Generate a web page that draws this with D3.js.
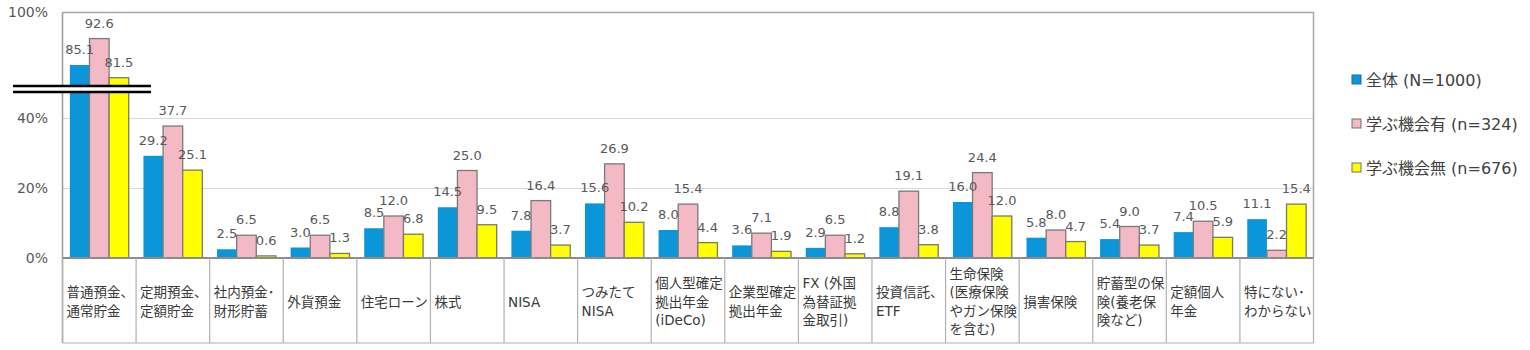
<!DOCTYPE html>
<html><head><meta charset="utf-8">
<script src="https://cdn.jsdelivr.net/npm/d3@7"></script>
<style>html,body{margin:0;padding:0;background:#fff;}svg{display:block;}</style>
</head><body>
<svg id="chart" width="1530" height="350"></svg>
<script>
const categories = [
  ["普通預金、","通常貯金"],
  ["定期預金、","定額貯金"],
  ["社内預金･","財形貯蓄"],
  ["外貨預金"],
  ["住宅ローン"],
  ["株式"],
  ["NISA"],
  ["つみたて","NISA"],
  ["個人型確定","拠出年金","(iDeCo)"],
  ["企業型確定","拠出年金"],
  ["FX (外国","為替証拠","金取引)"],
  ["投資信託、","ETF"],
  ["生命保険","(医療保険","やガン保険","を含む)"],
  ["損害保険"],
  ["貯蓄型の保","険(養老保","険など)"],
  ["定額個人","年金"],
  ["特にない･","わからない"]
];
const seriesNames = ["全体 (N=1000)", "学ぶ機会有 (n=324)", "学ぶ機会無 (n=676)"];
const total   = [85.1, 29.2, 2.5, 3.0, 8.5, 14.5, 7.8, 15.6, 8.0, 3.6, 2.9, 8.8, 16.0, 5.8, 5.4, 7.4, 11.1];
const learnYes = [92.6, 37.7, 6.5, 6.5, 12.0, 25.0, 16.4, 26.9, 15.4, 7.1, 6.5, 19.1, 24.4, 8.0, 9.0, 10.5, 2.2];
const learnNo  = [81.5, 25.1, 0.6, 1.3, 6.8, 9.5, 3.7, 10.2, 4.4, 1.9, 1.2, 3.8, 12.0, 4.7, 3.7, 5.9, 15.4];
const tickValues = [0, 20, 40, 100];
const tickLabels = ["0%", "20%", "40%", "100%"];
const colors = ["#0a96d8", "#f3b9c5", "#ffff00"];
const strokes = ["#1a7fb5", "#7a7a7a", "#7a7a6a"];

const series = [total, learnYes, learnNo];
const svg = d3.select("#chart");
const L = 62.5, R = 1313.5, T = 12.5, B = 258, TB = 343;
const FONT = "DejaVu Sans, Noto Sans CJK JP, sans-serif";

const x0 = d3.scaleBand().domain(d3.range(categories.length)).range([L, R]).padding(0);
const x1 = d3.scaleBand().domain(d3.range(3)).range([x0.bandwidth()*0.1, x0.bandwidth()*0.9]).padding(0);
// broken axis: 50..80 collapsed
const y = d3.scaleLinear().domain([0, 50, 80, 100]).range([B, 83, 83, T]);

// gridlines
svg.append("g").selectAll("line").data([20, 40]).join("line")
  .attr("x1", L).attr("x2", R).attr("y1", d => Math.round(y(d)) + 0.5).attr("y2", d => Math.round(y(d)) + 0.5)
  .attr("stroke", "#d9d9d9").attr("stroke-width", 1.2);

// plot border
svg.append("path").attr("d", `M${L},${T}H${R}V${B}`).attr("fill", "none").attr("stroke", "#a6a6a6").attr("stroke-width", 1.5);

// y axis labels
const yAxis = d3.axisLeft(y).tickValues(tickValues).tickSize(0).tickPadding(0)
  .tickFormat((d, i) => tickLabels[i]);
const gy = svg.append("g").attr("transform", `translate(48,0)`).call(yAxis);
gy.select(".domain").remove();
gy.selectAll("text").attr("font-family", FONT).attr("font-size", 14).attr("fill", "#595959");

// bars
const groups = svg.append("g").selectAll("g").data(categories).join("g")
  .attr("transform", (d, i) => `translate(${x0(i)},0)`);
groups.selectAll("rect").data((d, i) => series.map((s, k) => ({k, v: s[i]}))).join("rect")
  .attr("x", d => x1(d.k)).attr("width", x1.bandwidth())
  .attr("y", d => y(d.v)).attr("height", d => B - y(d.v))
  .attr("fill", d => colors[d.k])
  .attr("stroke", d => d.k === 0 ? "none" : strokes[d.k]).attr("stroke-width", 1.3);

// axis lines
svg.append("line").attr("x1", L).attr("x2", L).attr("y1", T).attr("y2", TB).attr("stroke", "#999").attr("stroke-width", 1.5);
svg.append("line").attr("x1", L).attr("x2", R).attr("y1", B).attr("y2", B).attr("stroke", "#8c8c8c").attr("stroke-width", 1.8);

// data labels
groups.selectAll("text.val").data((d, i) => series.map((s, k) => ({k, v: s[i]}))).join("text")
  .attr("class", "val")
  .attr("x", d => x1(d.k) + x1.bandwidth()/2).attr("y", d => y(d.v) - 11)
  .attr("text-anchor", "middle")
  .attr("font-family", FONT).attr("font-size", 13).attr("fill", "#595959")
  .text(d => d.v.toFixed(1));

// break marks
svg.append("rect").attr("x", 13).attr("y", 86).attr("width", 138).attr("height", 6).attr("fill", "#fff");
svg.append("line").attr("x1", 13).attr("x2", 151).attr("y1", 86).attr("y2", 86).attr("stroke", "#000").attr("stroke-width", 2.4);
svg.append("line").attr("x1", 13).attr("x2", 151).attr("y1", 92).attr("y2", 92).attr("stroke", "#000").attr("stroke-width", 2.4);

// category table
svg.append("g").selectAll("line").data(d3.range(categories.length + 1)).join("line")
  .attr("x1", i => i < categories.length ? x0(i) : R).attr("x2", i => i < categories.length ? x0(i) : R)
  .attr("y1", B).attr("y2", TB).attr("stroke", "#b0b0b0").attr("stroke-width", 1.2);
svg.append("line").attr("x1", L).attr("x2", R).attr("y1", TB).attr("y2", TB).attr("stroke", "#b0b0b0").attr("stroke-width", 1.2);

const cellMid = 302, lh = 18.5;
groups.append("text")
  .attr("font-family", FONT).attr("font-size", 13.5).attr("fill", "#3a3a3a")
  .each(function(lines) {
    const t = d3.select(this);
    const n = lines.length;
    lines.forEach((ln, j) => {
      t.append("tspan").attr("x", 4).attr("y", cellMid + (j - (n - 1)/2) * lh).attr("dy", "0.35em").text(ln);
    });
  });

// legend
const lg = svg.append("g").selectAll("g").data(seriesNames).join("g")
  .attr("transform", (d, i) => `translate(1352,${80 + i*44})`);
lg.append("rect").attr("x", 0).attr("y", -5).attr("width", 9).attr("height", 9)
  .attr("fill", (d, i) => colors[i]).attr("stroke", (d, i) => i === 0 ? "#1a6f9e" : "#707070").attr("stroke-width", 1);
lg.append("text").attr("x", 14).attr("y", 0).attr("dy", "0.35em")
  .attr("font-family", FONT).attr("font-size", 16).attr("fill", "#404040")
  .text(d => d);
</script>
</body></html>
